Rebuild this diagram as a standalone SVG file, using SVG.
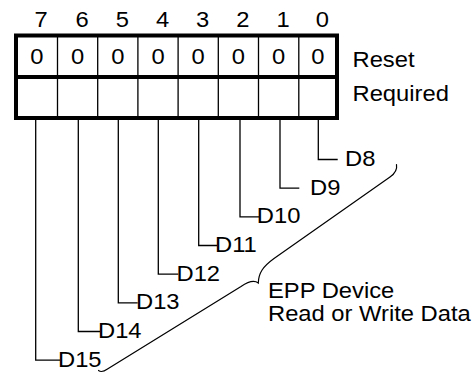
<svg xmlns="http://www.w3.org/2000/svg" width="476" height="375" viewBox="0 0 476 375">
<style>
.t{font-family:"Liberation Sans",Arial,Helvetica,sans-serif;font-size:22px;fill:#000}
.m{text-anchor:middle}
.thick{fill:none;stroke:#000;stroke-width:4}
.thin{fill:none;stroke:#000;stroke-width:1.3}
.lead{fill:none;stroke:#000;stroke-width:1.3}
.brace{fill:none;stroke:#000;stroke-width:1.2;stroke-linecap:round}
</style>
<rect width="476" height="375" fill="#fff"/>
<g id="register">
  <g id="bit-numbers">
    <text class="t m" transform="translate(41.2,26.5) scale(1.08,1)">7</text>
    <text class="t m" transform="translate(82.1,26.5) scale(1.08,1)">6</text>
    <text class="t m" transform="translate(122.3,26.5) scale(1.08,1)">5</text>
    <text class="t m" transform="translate(162.5,26.5) scale(1.08,1)">4</text>
    <text class="t m" transform="translate(202.7,26.5) scale(1.08,1)">3</text>
    <text class="t m" transform="translate(242.9,26.5) scale(1.08,1)">2</text>
    <text class="t m" transform="translate(283.1,26.5) scale(1.08,1)">1</text>
    <text class="t m" transform="translate(322.4,26.5) scale(1.08,1)">0</text>
  </g>
  <path class="thin" d="M57.5,35.5V118M97.7,35.5V118M137.9,35.5V118M178.1,35.5V118M218.3,35.5V118M258.5,35.5V118M298.8,35.5V118"/>
  <rect class="thick" x="16" y="35.5" width="321" height="82.5"/>
  <line class="thick" x1="16" y1="77" x2="337" y2="77"/>
  <g id="reset-values">
    <text class="t m" transform="translate(36.75,63.5) scale(1.08,1)">0</text>
    <text class="t m" transform="translate(77.6,63.5) scale(1.08,1)">0</text>
    <text class="t m" transform="translate(117.8,63.5) scale(1.08,1)">0</text>
    <text class="t m" transform="translate(158,63.5) scale(1.08,1)">0</text>
    <text class="t m" transform="translate(198.2,63.5) scale(1.08,1)">0</text>
    <text class="t m" transform="translate(238.4,63.5) scale(1.08,1)">0</text>
    <text class="t m" transform="translate(278.65,63.5) scale(1.08,1)">0</text>
    <text class="t m" transform="translate(317.9,63.5) scale(1.08,1)">0</text>
  </g>
  <text class="t" transform="translate(352.5,66.5) scale(1.08,1)">Reset</text>
  <text class="t" transform="translate(352.5,101) scale(1.08,1)">Required</text>
</g>
<g id="connectors">
  <path class="lead" d="M318.3,118V159.5H337.7"/>
  <path class="lead" d="M280,118V188.2H299.3"/>
  <path class="lead" d="M240,118V216.8H259"/>
  <path class="lead" d="M198.7,118V245.5H217"/>
  <path class="lead" d="M158.3,118V274.1H178.3"/>
  <path class="lead" d="M118.3,118V302.8H137.7"/>
  <path class="lead" d="M78.3,118V331.5H100"/>
  <path class="lead" d="M35.7,118V360.1H60"/>
</g>
<g id="D8"><text class="t" transform="translate(345,165.5) scale(1.08,1)">D8</text></g>
<g id="D9"><text class="t" transform="translate(310,194.5) scale(1.08,1)">D9</text></g>
<g id="D10"><text class="t" transform="translate(256.8,223.3) scale(1.08,1)">D10</text></g>
<g id="D11"><text class="t" transform="translate(215,252) scale(1.08,1)">D11</text></g>
<g id="D12"><text class="t" transform="translate(176.5,280.6) scale(1.08,1)">D12</text></g>
<g id="D13"><text class="t" transform="translate(136,309.3) scale(1.08,1)">D13</text></g>
<g id="D14"><text class="t" transform="translate(98,338) scale(1.08,1)">D14</text></g>
<g id="D15"><text class="t" transform="translate(58,366.6) scale(1.08,1)">D15</text></g>
<g id="brace">
  <path class="brace" d="M396.5,164.5C397.5,170 395,173.5 390,177L274,258.5C263,266.5 258.5,273 258.3,283C255,280.5 249,281 241,286.5L107.5,369C104,371.5 101,372.5 98.5,370.5"/>
</g>
<g id="epp-label">
  <text class="t" transform="translate(268,298) scale(1.08,1)">EPP Device</text>
  <text class="t" transform="translate(268,321) scale(1.08,1)">Read or Write Data</text>
</g>
</svg>
